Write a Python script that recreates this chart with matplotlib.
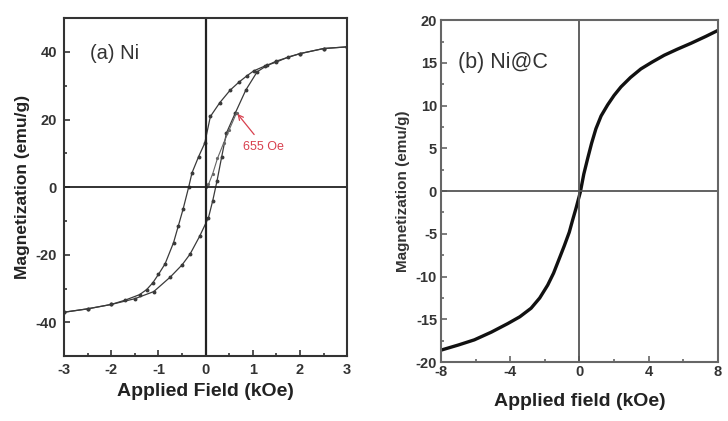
import matplotlib
matplotlib.use("Agg")
import matplotlib.pyplot as plt
from matplotlib.ticker import MultipleLocator

plt.rcParams['font.family'] = ['Liberation Sans', 'DejaVu Sans']
plt.rcParams['axes.unicode_minus'] = False

# (a) Ni hysteresis loop
# descending branch (+3 -> -3)
ni_down_x = [3.0, 2.5, 2.0, 1.75, 1.5, 1.25, 1.02, 0.88, 0.7, 0.52, 0.3, 0.1, -0.02,
             -0.15, -0.29, -0.36, -0.48, -0.58, -0.68, -0.86, -1.0, -1.12, -1.25, -1.4,
             -1.7, -2.0, -2.5, -3.0]
ni_down_y = [41.5, 41.0, 39.5, 38.5, 37.0, 35.8, 34.4, 33.0, 31.0, 28.7, 25.0, 20.9, 13.0,
             9.0, 4.2, 0.0, -6.6, -11.5, -16.4, -22.7, -25.8, -28.3, -30.3, -31.8,
             -33.4, -34.7, -36.0, -37.0]
# ascending branch (-3 -> +3)
ni_up_x = [-3.0, -2.5, -2.0, -1.5, -1.1, -0.75, -0.5, -0.33, -0.13, 0.06, 0.15, 0.24,
           0.34, 0.44, 0.63, 0.85, 1.09, 1.3, 1.5, 2.0, 2.5, 3.0]
ni_up_y = [-37.0, -36.0, -34.7, -33.0, -30.9, -26.6, -23.0, -19.8, -14.6, -9.0, -4.0, 1.8,
           9.0, 16.0, 22.0, 28.7, 34.1, 36.0, 37.3, 39.5, 41.0, 41.5]
# initial magnetisation curve up to 655 Oe
ni_init_x = [0.0, 0.06, 0.15, 0.25, 0.38, 0.5, 0.655]
ni_init_y = [0.0, 0.8, 4.0, 8.5, 13.0, 17.0, 22.0]

# (b) Ni@C curve
nic_x = [-8.0, -7.0, -6.08, -5.1, -4.15, -3.45, -2.8, -2.3, -1.84, -1.5, -1.17, -0.88,
         -0.59, -0.4, -0.2, 0.05, 0.25, 0.47, 0.7, 0.95, 1.25, 1.63, 2.0, 2.4, 2.95,
         3.55, 4.2, 4.9, 5.65, 6.45, 7.3, 8.0]
nic_y = [-18.6, -18.0, -17.4, -16.5, -15.5, -14.7, -13.7, -12.5, -11.0, -9.6, -7.9, -6.4,
         -4.8, -3.4, -2.0, -0.1, 2.0, 3.8, 5.6, 7.3, 8.8, 10.1, 11.2, 12.2, 13.3,
         14.3, 15.1, 15.9, 16.6, 17.3, 18.1, 18.8]

fig = plt.figure(figsize=(7.28, 4.21), dpi=100)
ax1 = fig.add_axes([0.088, 0.154, 0.389, 0.803])
ax2 = fig.add_axes([0.606, 0.140, 0.380, 0.812])

line_c = '#3a3a3a'
ax1.plot(ni_down_x, ni_down_y, '-', color=line_c, lw=0.9, marker='o', ms=1.8)
ax1.plot(ni_up_x, ni_up_y, '-', color=line_c, lw=0.9, marker='o', ms=1.8)
ax1.plot(ni_init_x, ni_init_y, '-', color='#666666', lw=0.8, marker='o', ms=1.3)
ax1.axhline(0, color='#222222', lw=1.3)
ax1.axvline(0, color='#222222', lw=1.6)
ax1.set_xlim(-3, 3)
ax1.set_ylim(-50, 50)
ax1.xaxis.set_major_locator(MultipleLocator(1))
ax1.xaxis.set_minor_locator(MultipleLocator(0.5))
ax1.yaxis.set_major_locator(MultipleLocator(20))
ax1.yaxis.set_minor_locator(MultipleLocator(10))
ax1.set_xlabel('Applied Field (kOe)', fontsize=14, fontweight='bold', color='#222222')
ax1.set_ylabel('Magnetization (emu/g)', fontsize=12.5, fontweight='bold', color='#222222')
ax1.text(0.09, 0.88, '(a) Ni', transform=ax1.transAxes, fontsize=14.5, color='#333333')
ax1.annotate('655 Oe', xy=(0.655, 22), xytext=(0.8, 12), fontsize=9, color='#d8404e',
             ha='left', va='center',
             arrowprops=dict(arrowstyle='->', color='#d8404e', lw=0.9, shrinkA=3, shrinkB=1))

ax2.plot(nic_x, nic_y, '-', color='#111111', lw=2.4)
ax2.axhline(0, color='#555555', lw=1.3)
ax2.axvline(0, color='#555555', lw=1.3)
ax2.set_xlim(-8, 8)
ax2.set_ylim(-20, 20)
ax2.xaxis.set_major_locator(MultipleLocator(4))
ax2.xaxis.set_minor_locator(MultipleLocator(2))
ax2.yaxis.set_major_locator(MultipleLocator(5))
ax2.yaxis.set_minor_locator(MultipleLocator(2.5))
ax2.set_xlabel('Applied field (kOe)', fontsize=14, fontweight='bold', color='#222222',
               labelpad=10)
ax2.set_ylabel('Magnetization (emu/g)', fontsize=11, fontweight='bold', color='#333333')
ax2.text(0.06, 0.86, '(b) Ni@C', transform=ax2.transAxes, fontsize=15.5, color='#333333')

for ax, sc in ((ax1, '#333333'), (ax2, '#666666')):
    for s in ax.spines.values():
        s.set_linewidth(1.5)
        s.set_color(sc)
    ax.tick_params(which='both', direction='in', color=sc, width=1.2)
    ax.tick_params(which='major', length=4, labelsize=10.5, pad=5)
    ax.tick_params(which='minor', length=2.5)
    for lab in ax.get_xticklabels() + ax.get_yticklabels():
        lab.set_fontweight('bold')
        lab.set_color('#333333')

ax2.tick_params(axis='x', pad=2)
ax2.tick_params(axis='y', pad=3)

fig.savefig('out.png', dpi=100)
